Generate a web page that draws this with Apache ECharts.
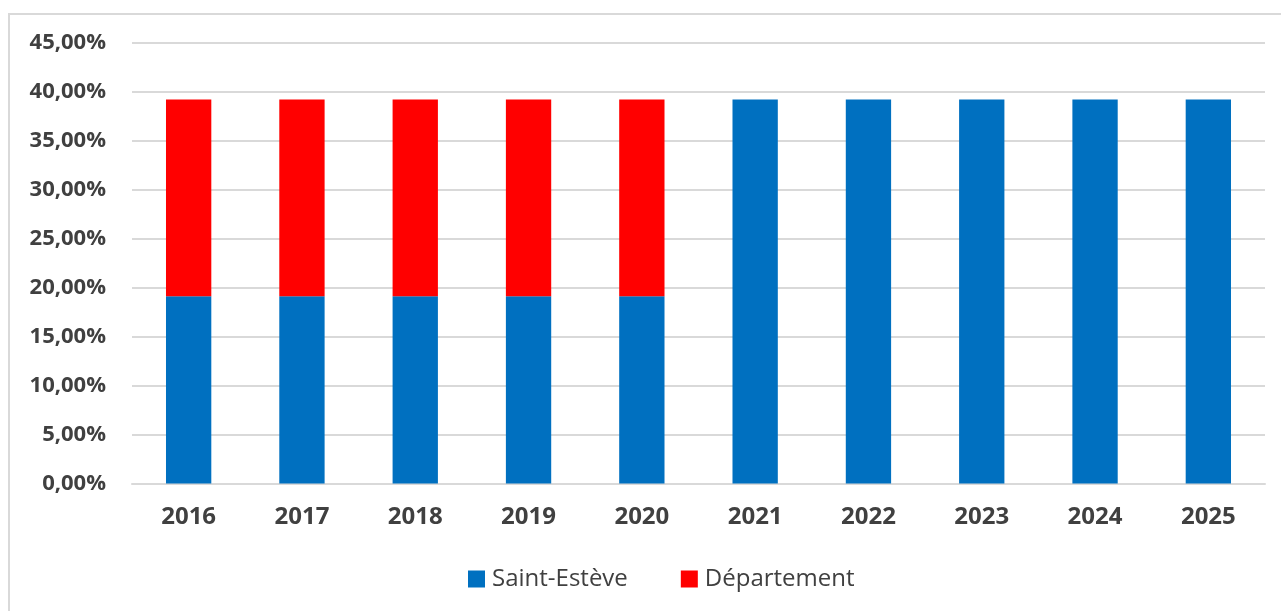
<!DOCTYPE html>
<html>
<head>
<meta charset="utf-8">
<script src="https://cdn.jsdelivr.net/npm/echarts@6/dist/echarts.min.js"></script>
<style>
  html, body { margin: 0; padding: 0; background: #ffffff; }
  #chart { width: 1281px; height: 611px; }
</style>
</head>
<body>
<div id="chart"></div>
<script>
// Taux de taxe foncière (bâti) par année
const years = ['2016', '2017', '2018', '2019', '2020', '2021', '2022', '2023', '2024', '2025'];
const saintEsteve = [19.13, 19.13, 19.13, 19.13, 19.13, 39.23, 39.23, 39.23, 39.23, 39.23];
const departement = [20.10, 20.10, 20.10, 20.10, 20.10, null, null, null, null, null];
const seriesNames = ['Saint-Estève', 'Département'];
const seriesColors = ['#0070C0', '#FF0000'];

const textColor = '#404040';
const fontFamily = '"Open Sans", "DejaVu Sans", sans-serif';

const chart = echarts.init(document.getElementById('chart'), null, { renderer: 'canvas' });

chart.setOption({
  animation: false,
  backgroundColor: '#ffffff',
  graphic: [{
    type: 'rect',
    shape: { x: 9, y: 14, width: 1400, height: 800 },
    style: { fill: 'none', stroke: '#d9d9d9', lineWidth: 2 },
    silent: true,
    z: -1
  }],
  grid: { left: 132, right: 16, top: 43, bottom: 127.5, containLabel: false },
  legend: {
    data: seriesNames,
    bottom: 15,
    left: 463,
    itemWidth: 17,
    itemHeight: 17,
    itemGap: 53,
    icon: 'rect',
    textStyle: { color: textColor, fontSize: 24, fontFamily: fontFamily, padding: [0, 0, 0, 2] }
  },
  xAxis: {
    type: 'category',
    data: years,
    axisLine: { show: true, lineStyle: { color: '#d9d9d9', width: 2 } },
    axisTick: { show: false },
    axisLabel: { color: textColor, fontSize: 24, fontWeight: 'bold', fontFamily: fontFamily, margin: 22 }
  },
  yAxis: {
    type: 'value',
    min: 0,
    max: 45,
    interval: 5,
    axisLine: { show: false },
    axisTick: { show: false },
    splitLine: { lineStyle: { color: '#d9d9d9', width: 2 } },
    axisLabel: {
      color: textColor, fontSize: 22, fontWeight: 'bold', fontFamily: fontFamily, margin: 26,
      formatter: v => v.toFixed(2).replace('.', ',') + '%'
    }
  },
  series: [
    {
      name: seriesNames[0],
      type: 'bar',
      stack: 'taux',
      data: saintEsteve,
      barWidth: '40%',
      itemStyle: { color: seriesColors[0] }
    },
    {
      name: seriesNames[1],
      type: 'bar',
      stack: 'taux',
      data: departement,
      barWidth: '40%',
      itemStyle: { color: seriesColors[1] }
    }
  ]
});
</script>
</body>
</html>
